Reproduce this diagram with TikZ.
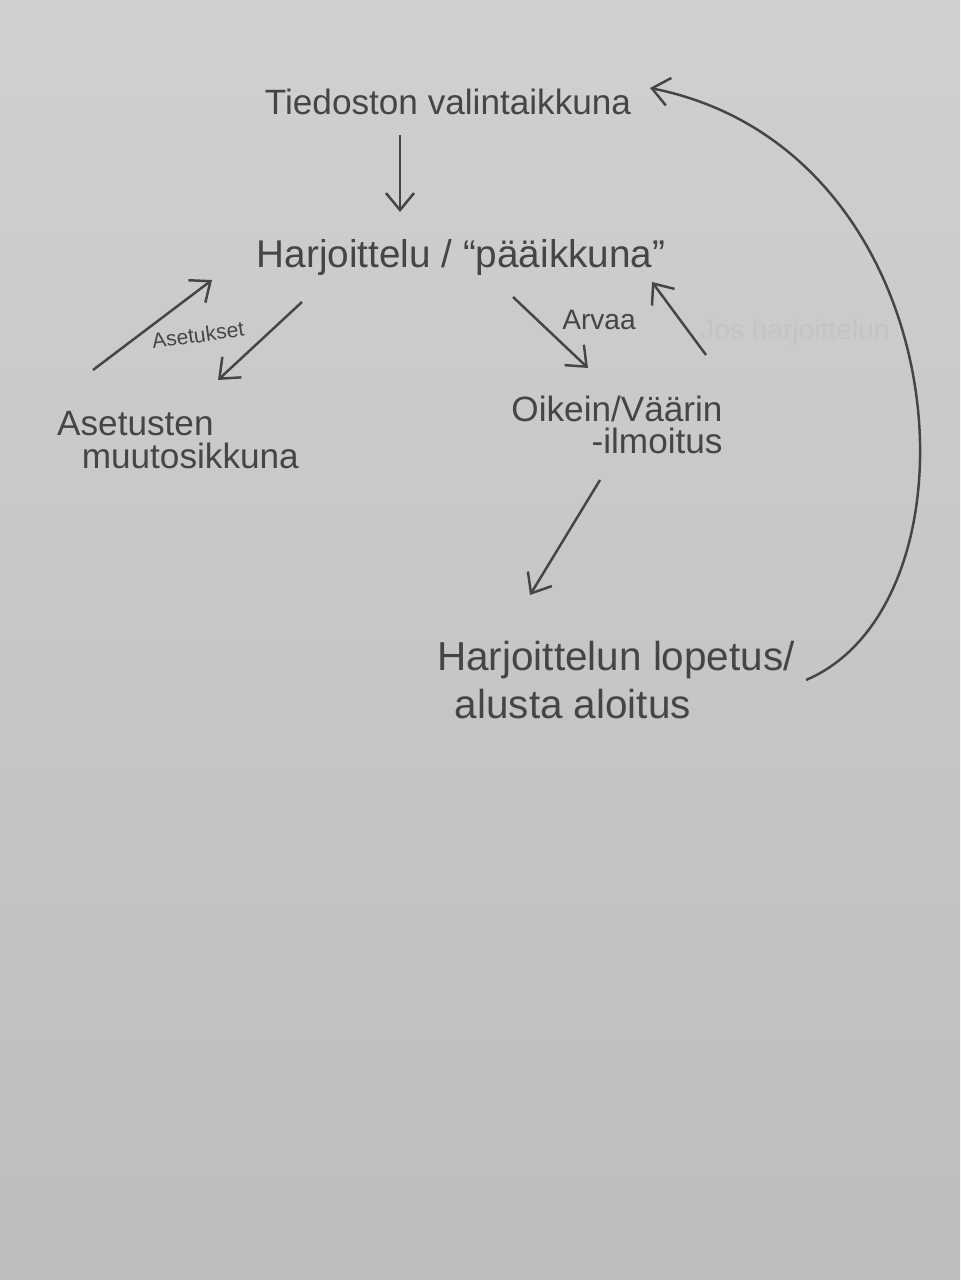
\documentclass[tikz,border=0pt]{standalone}
\usepackage{fontspec}
\setmainfont{Liberation Sans}
\usepackage{xcolor}
\usetikzlibrary{calc,arrows.meta}
\definecolor{paperTop}{HTML}{D0D0D0}
\definecolor{paperBot}{HTML}{BDBDBD}
\definecolor{ink}{HTML}{454545}
\tikzset{
  pen/.style={ink, line width=0.7pt, -{Straight Barb[length=1.7mm,width=2.8mm]}},
  txt/.style={ink, inner sep=0pt},
}

\begin{document}
\begin{tikzpicture}[x=0.01cm,y=-0.01cm]
\useasboundingbox (0,0) rectangle (960,1280);
\shade[top color=paperTop, bottom color=paperBot] (0,0) rectangle (960,1280);

\node[txt, font=\fontsize{10}{10}\selectfont] (tied) at (448,102) {Tiedoston valintaikkuna};
\node[txt, font=\fontsize{11}{11}\selectfont] (main) at (461,258) {Harjoittelu / “pääikkuna”};
\node[txt, font=\fontsize{10}{9.5}\selectfont, align=left] (aset) at (178,440) {Asetusten\\\hspace{7pt}muutosikkuna};
\node[txt, font=\fontsize{10}{9}\selectfont, align=right] (ilmo) at (617,425) {Oikein/Väärin\\-ilmoitus};
\node[txt, font=\fontsize{11.5}{13.5}\selectfont, align=left] (lopetus) at (616,680) {Harjoittelun lopetus/\\\hspace{5pt}alusta aloitus};

\draw[pen] ($(tied)+(-48,33)$) -- ($(main)+(-61,-46)$);
\draw[pen] ($(aset)+(-85,-70)$) -- ($(main)+(-249,22)$);
\draw[pen] ($(main)+(-159,44)$) -- ($(aset)+(40,-60)$);
\draw[pen] ($(main)+(52,39)$) -- ($(ilmo)+(-29,-57)$);
\draw[pen] ($(ilmo)+(89,-70)$) -- ($(main)+(191,24)$);
\draw[pen] ($(ilmo)+(-17,55)$) -- ($(lopetus)+(-86,-85)$);
\draw[pen] ($(lopetus)+(190,0)$) .. controls +(184,-78) and +(310,62) .. ($(tied)+(202,-14)$);

\node[txt, font=\fontsize{6}{6}\selectfont, rotate=8] (asetukset) at (198,335) {Asetukset};
\node[txt, font=\fontsize{8}{8}\selectfont] (arvaa) at (599,320) {Arvaa};
\node[txt, font=\fontsize{8}{8}\selectfont, text=paperTop!94!black] (jos) at (795,332) {Jos harjoittelun};
\end{tikzpicture}
\end{document}
